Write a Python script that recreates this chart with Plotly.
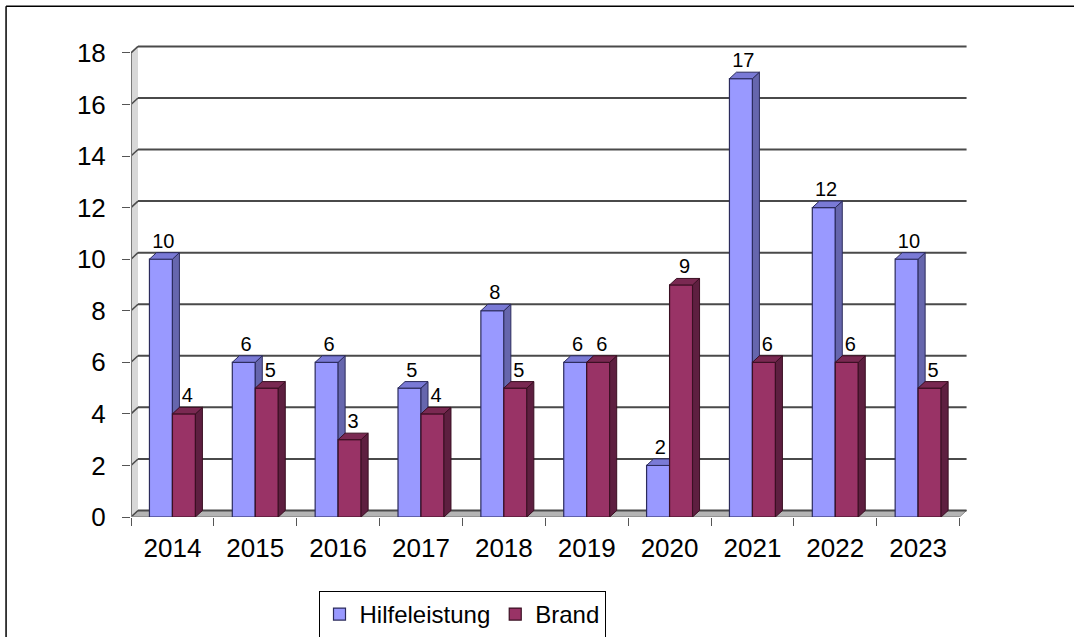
import plotly.graph_objects as go

years = ["2014", "2015", "2016", "2017", "2018", "2019", "2020", "2021", "2022", "2023"]
hilfeleistung = [10, 6, 6, 5, 8, 6, 2, 17, 12, 10]
brand = [4, 5, 3, 4, 5, 6, 9, 6, 6, 5]
y_ticks = [0, 2, 4, 6, 8, 10, 12, 14, 16, 18]

W, H = 1074, 637
n = len(years)
AX_L, AX_R = 131, 960      # pixel x of category range edges
AX_T, AX_B = 52.7, 517     # pixel y of 18 and 0
px_x = (AX_R - AX_L) / n
px_y = (AX_B - AX_T) / 18.0
X_EXTRA = 0.15
Y_EXTRA = 0.5
ML = AX_L
MR = W - AX_R - X_EXTRA * px_x
MT = AX_T - Y_EXTRA * px_y
MB = H - AX_B
BW = 23 / px_x          # bar width in data units
DX = 7 / px_x           # 3d depth x
DY = 6.5 / px_y         # 3d depth y
FONT = "Arial, Liberation Sans, sans-serif"

xs = list(range(n))


def faces(vals, offset):
    side_x, side_y, top_x, top_y = [], [], [], []
    for i, v in zip(xs, vals):
        x0 = i + offset
        x1 = x0 + BW
        side_x += [x1, x1 + DX, x1 + DX, x1, x1, None]
        side_y += [0, DY, v + DY, v, 0, None]
        top_x += [x0, x0 + DX, x1 + DX, x1, x0, None]
        top_y += [v, v + DY, v + DY, v, v, None]
    return side_x, side_y, top_x, top_y


fig = go.Figure()

series = [
    ("Hilfeleistung", hilfeleistung, -BW, "#9999FF", "#6666AD", "#7A7AD6", "#2B2B5C", "x", "y"),
    ("Brand", brand, 0.0, "#993366", "#5E1F40", "#7A2952", "#3A0F22", "x2", "y2"),
]
for name, vals, off, c_front, c_side, c_top, c_line, xa, ya in series:
    fig.add_trace(go.Bar(
        x=xs, y=vals, name=name, width=BW, offset=off,
        marker=dict(color=c_front, line=dict(color=c_line, width=1.2)),
        xaxis=xa, yaxis=ya, hoverinfo="skip",
    ))
    sx, sy, tx, ty = faces(vals, off)
    fig.add_trace(go.Scatter(x=sx, y=sy, fill="toself", fillcolor=c_side, mode="lines",
                             line=dict(color=c_line, width=1), showlegend=False,
                             xaxis=xa, yaxis=ya, hoverinfo="skip"))
    fig.add_trace(go.Scatter(x=tx, y=ty, fill="toself", fillcolor=c_top, mode="lines",
                             line=dict(color=c_line, width=1), showlegend=False,
                             xaxis=xa, yaxis=ya, hoverinfo="skip"))

# data labels (on top layer)
lab_x = [i - BW / 2 + DX / 3 for i in xs] + [i + BW / 2 + DX / 2 for i in xs]
lab_y = [v + DY for v in hilfeleistung] + [v + DY for v in brand]
lab_t = [str(v) for v in hilfeleistung] + [str(v) for v in brand]
fig.add_trace(go.Scatter(x=lab_x, y=lab_y, text=lab_t, mode="text", textposition="top center",
                         textfont=dict(family=FONT, size=20, color="black"),
                         showlegend=False, xaxis="x2", yaxis="y2", hoverinfo="skip",
                         cliponaxis=False))

shapes = []
# left wall
shapes.append(dict(type="path", xref="x", yref="y", layer="below",
                   path=f"M -0.5 0 L {-0.5 + DX} {DY} L {-0.5 + DX} {18 + DY} L -0.5 18 Z",
                   fillcolor="#D8D8D8", line=dict(width=0)))
# floor
shapes.append(dict(type="path", xref="x", yref="y", layer="below",
                   path=f"M -0.5 0 L {-0.5 + DX} {DY} L {n - 0.5 + DX} {DY} L {n - 0.5} 0 Z",
                   fillcolor="#B4B4B4", line=dict(color="#8C8C8C", width=1)))
# back gridlines and wall tick connectors
for t in y_ticks:
    shapes.append(dict(type="line", xref="x", yref="y", layer="below",
                       x0=-0.5 + DX, x1=n - 0.5 + DX, y0=t + DY, y1=t + DY,
                       line=dict(color="#4A4A4A", width=2)))
    shapes.append(dict(type="line", xref="x", yref="y", layer="below",
                       x0=-0.5, x1=-0.5 + DX, y0=t, y1=t + DY,
                       line=dict(color="#4A4A4A", width=1.5)))
# front axis lines
shapes.append(dict(type="line", xref="x", yref="y", layer="below",
                   x0=-0.5, x1=-0.5, y0=0, y1=18, line=dict(color="#7A7A7A", width=2)))
shapes.append(dict(type="line", xref="x", yref="y", layer="below",
                   x0=-0.5, x1=n - 0.5, y0=0, y1=0, line=dict(color="#8C8C8C", width=1.5)))
# chart border (top and left), in pixel terms converted to paper
pw = W - ML - MR
ph = H - MT - MB
top_p = 1 + (MT - 6) / ph
left_p = -(ML - 6) / pw
shapes.append(dict(type="line", xref="paper", yref="paper", x0=left_p, x1=1 + (MR + 5) / pw,
                   y0=top_p, y1=top_p, line=dict(color="black", width=1.5)))
shapes.append(dict(type="line", xref="paper", yref="paper", x0=left_p, x1=left_p,
                   y0=-(MB + 5) / ph, y1=top_p, line=dict(color="black", width=1.5)))

fig.update_layout(
    width=W, height=H,
    margin=dict(l=ML, r=MR, t=MT, b=MB),
    paper_bgcolor="white", plot_bgcolor="white",
    showlegend=True,
    font=dict(family=FONT, color="black"),
    shapes=shapes,
    xaxis=dict(range=[-0.5, n - 0.5 + X_EXTRA], tickvals=xs, ticktext=years, ticks="",
               showgrid=False, zeroline=False, showline=False,
               tickfont=dict(family=FONT, size=26, color="black"), ticklabelstandoff=13,
               minor=dict(tickvals=[i - 0.5 for i in range(n + 1)], ticks="outside",
                          ticklen=8, tickcolor="#555555", tickwidth=1.2, showgrid=False)),
    yaxis=dict(range=[0, 18 + Y_EXTRA], tickvals=y_ticks, ticks="outside", ticklen=8,
               tickcolor="#555555", tickwidth=1.2, showgrid=False, zeroline=False,
               showline=False, tickfont=dict(family=FONT, size=26, color="black"),
               ticklabelstandoff=11),
    xaxis2=dict(range=[-0.5, n - 0.5 + X_EXTRA], overlaying="x", visible=False),
    yaxis2=dict(range=[0, 18 + Y_EXTRA], overlaying="y", visible=False),
    legend=dict(orientation="h", xref="container", yref="container",
                x=462 / W, xanchor="center", y=1 - 591 / H, yanchor="top",
                bordercolor="black", borderwidth=1, bgcolor="white",
                font=dict(family=FONT, size=24, color="black"),
                itemwidth=30, tracegroupgap=0),
)

fig.write_html("out.html", config={"displayModeBar": False},
               post_script="document.body.style.margin='0px';")
